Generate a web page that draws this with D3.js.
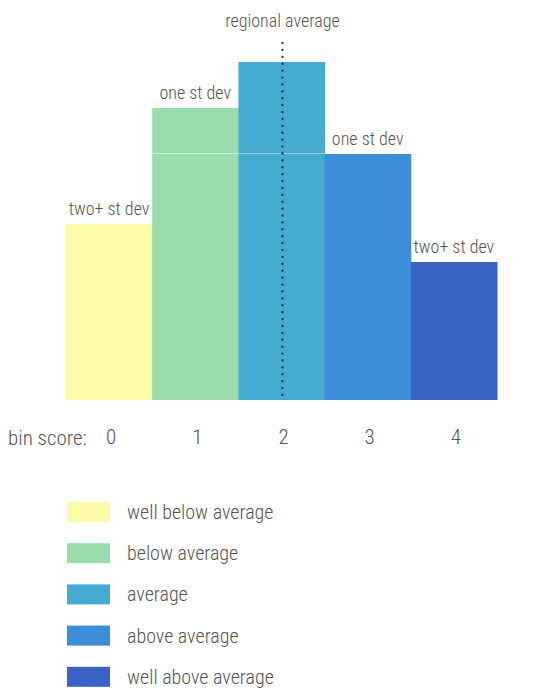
<!DOCTYPE html>
<html>
<head>
<meta charset="utf-8">
<script src="https://cdn.jsdelivr.net/npm/d3@7"></script>
<style>
  body { margin: 0; background: #fff; }
  text { font-family: "Roboto Condensed", "DejaVu Sans", sans-serif; font-stretch: condensed; font-weight: 300; fill: #555; }
</style>
</head>
<body>
<div id="chart"></div>
<script>
// bin data
const bins = [0, 1, 2, 3, 4];
const counts = [22, 36.5, 42.25, 30.75, 17.25];
const barLabels = ["two+ st dev", "one st dev", "", "one st dev", "two+ st dev"];
const classes = ["well below average", "below average", "average", "above average", "well above average"];
const colors = ["#fbfbaa", "#9bdcad", "#44acd0", "#3e8dd9", "#3b63c5"];
const averageBin = 2;

const width = 548, height = 688;
const margin = { top: 0, left: 66, right: 51, bottom: 288 };

const svg = d3.select("#chart").append("svg")
    .attr("width", width)
    .attr("height", height);

const x = d3.scaleBand()
    .domain(bins)
    .range([margin.left, width - margin.right])
    .padding(0);

const y = d3.scaleLinear()
    .domain([0, 50])
    .range([height - margin.bottom, height - margin.bottom - 400]);

// bars
svg.selectAll(".bar")
    .data(counts)
    .enter().append("rect")
    .attr("class", "bar")
    .attr("x", (d, i) => x(bins[i]))
    .attr("width", x.bandwidth() + 0.5)
    .attr("y", d => y(d))
    .attr("height", d => y(0) - y(d))
    .attr("fill", (d, i) => colors[i]);

// faint crease line across the middle bars
svg.append("line")
    .attr("x1", x(1))
    .attr("x2", x(3))
    .attr("y1", y(counts[3]) - 0.5)
    .attr("y2", y(counts[3]) - 0.5)
    .attr("stroke", "#ffffff")
    .attr("stroke-opacity", 0.45)
    .attr("stroke-width", 1.2);

// st dev labels
svg.selectAll(".barlabel")
    .data(counts)
    .enter().append("text")
    .attr("class", "barlabel")
    .attr("x", (d, i) => x(bins[i]) + x.bandwidth() / 2)
    .attr("y", d => y(d) - 9)
    .attr("text-anchor", "middle")
    .style("font-size", "18px")
    .text((d, i) => barLabels[i]);

// regional average dotted line
const ax = x(averageBin) + x.bandwidth() / 2 + 1;
svg.append("line")
    .attr("x1", ax)
    .attr("x2", ax)
    .attr("y1", 43)
    .attr("y2", y(0))
    .attr("stroke", "#1c2b3a")
    .attr("stroke-width", 2.2)
    .attr("stroke-linecap", "round")
    .attr("stroke-dasharray", "0.1 6.8");

svg.append("text")
    .attr("x", ax)
    .attr("y", 27)
    .attr("text-anchor", "middle")
    .style("font-size", "18px")
    .text("regional average");

// axis
const axis = svg.append("g")
    .attr("transform", `translate(0,${y(0)})`)
    .call(d3.axisBottom(x).tickSize(0).tickPadding(29));
axis.select(".domain").remove();
axis.selectAll("text")
    .attr("dx", 2)
    .style("font-size", "21px")
    .style("font-family", null)
    .attr("fill", "#777");

svg.append("text")
    .attr("x", 8)
    .attr("y", y(0) + 45)
    .style("font-size", "21px")
    .text("bin score:");

// legend
const legend = svg.selectAll(".legend")
    .data(classes)
    .enter().append("g")
    .attr("class", "legend")
    .attr("transform", (d, i) => `translate(67,${502 + i * 41.2})`);

legend.append("rect")
    .attr("width", 43)
    .attr("height", 20)
    .attr("fill", (d, i) => colors[i]);

legend.append("text")
    .attr("x", 60)
    .attr("y", 17)
    .style("font-size", "20px")
    .text(d => d);
</script>
</body>
</html>
